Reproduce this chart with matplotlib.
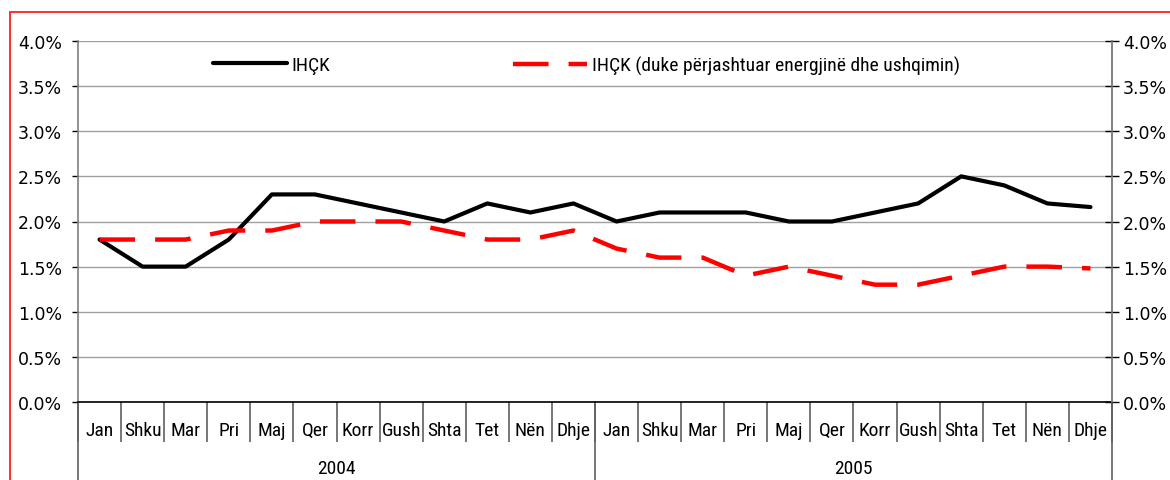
import matplotlib
matplotlib.use("Agg")
import matplotlib.pyplot as plt
import matplotlib.transforms as mtransforms
from matplotlib import font_manager as fm
from matplotlib.patches import Rectangle
from matplotlib.ticker import FixedLocator, FuncFormatter

# ---------------- data ----------------
months = ['Jan', 'Shku', 'Mar', 'Pri', 'Maj', 'Qer', 'Korr', 'Gush', 'Shta', 'Tet', 'Nën', 'Dhje']
years = ['2004', '2005']
ihck = [1.8, 1.5, 1.5, 1.8, 2.3, 2.3, 2.2, 2.1, 2.0, 2.2, 2.1, 2.2,
        2.0, 2.1, 2.1, 2.1, 2.0, 2.0, 2.1, 2.2, 2.5, 2.4, 2.2, 2.16]
ihck_core = [1.8, 1.8, 1.8, 1.9, 1.9, 2.0, 2.0, 2.0, 1.9, 1.8, 1.8, 1.9,
             1.7, 1.6, 1.6, 1.4, 1.5, 1.4, 1.3, 1.3, 1.4, 1.5, 1.5, 1.48]
series_labels = ['IHÇK', 'IHÇK (duke përjashtuar energjinë dhe ushqimin)']
yticks = [0.0, 0.5, 1.0, 1.5, 2.0, 2.5, 3.0, 3.5, 4.0]

# ---------------- fonts ----------------
names = {f.name for f in fm.fontManager.ttflist}
narrow = None
for n in ['Liberation Sans Narrow', 'DejaVu Sans Condensed', 'Roboto Condensed',
          'Open Sans Condensed', 'Arial Narrow']:
    if n in names:
        narrow = n
        break
if narrow is None:
    narrow = 'Liberation Sans'
    nsize = 12
else:
    nsize = 14
plt.rcParams['font.family'] = ['DejaVu Sans']

W, H = 1170, 481
fig = plt.figure(figsize=(W / 100, H / 100), dpi=100)
L, R, T, B = 78, 1112, 42, 403
ax = fig.add_axes([L / W, 1 - B / H, (R - L) / W, (B - T) / H])

n = len(ihck)
xs = [i + 0.5 for i in range(n)]

ax.plot(xs, ihck, color='black', lw=3.0, solid_capstyle='round',
        solid_joinstyle='round', label=series_labels[0], zorder=3)
ax.plot(xs, ihck_core, color='#ff0000', lw=3.2, linestyle=(0, (8, 4.5)),
        dash_capstyle='butt', label=series_labels[1], zorder=3)

ax.set_xlim(0, n)
ax.set_ylim(0, 4.0)

# grid
ax.yaxis.set_major_locator(FixedLocator(yticks))
ax.yaxis.set_major_formatter(FuncFormatter(lambda v, p: f'{v:.1f}%'))
ax.grid(axis='y', color='#a0a0a0', lw=1.0)
ax.set_axisbelow(True)

ax.spines['top'].set_visible(False)
ax.spines['left'].set_color('#808080')
ax.spines['right'].set_color('#808080')
ax.spines['bottom'].set_color('black')
for s in ax.spines.values():
    s.set_linewidth(1.2)

ax.tick_params(axis='y', which='major', direction='out', length=4.5, width=1,
               color='black', pad=7, labelsize=12.5, labelcolor='black')

# right axis
ax2 = ax.twinx()
ax2.set_ylim(0, 4.0)
ax2.yaxis.set_major_locator(FixedLocator(yticks))
ax2.yaxis.set_major_formatter(FuncFormatter(lambda v, p: f'{v:.1f}%'))
ax2.tick_params(axis='y', direction='inout', length=9.5, width=1, color='black',
                pad=3, labelsize=12.5)
for s in ['top', 'left', 'bottom']:
    ax2.spines[s].set_visible(False)
ax2.spines['right'].set_color('#808080')
ax2.spines['right'].set_linewidth(1.2)

# x axis: separators as major ticks, month labels at minor ticks
ax.set_xticks(range(n + 1))
ax.set_xticklabels([])
ax.set_xticks(xs, minor=True)
ax.set_xticklabels(months * len(years), minor=True, fontfamily=narrow, fontsize=nsize)
ax.tick_params(axis='x', which='major', direction='out', length=29, width=1.2,
               color='#606060')
ax.tick_params(axis='x', which='minor', length=0, pad=13.5)

# year level
trans = mtransforms.blended_transform_factory(ax.transData, ax.transAxes)
for k, yr in enumerate(years):
    ax.annotate(yr, xy=(12 * k + 6, 0), xycoords=trans, xytext=(0, -66),
                textcoords='offset pixels', ha='center', va='center',
                fontfamily=narrow, fontsize=nsize)
for xb in range(0, n + 1, 12):
    ax.plot([xb, xb], [0, -0.3], transform=trans, color='#606060', lw=1.2,
            clip_on=False)

# legend: two separate entries placed like the reference
h = ax.get_lines()
leg1 = ax.legend(handles=[h[0]], loc='center left',
                 bbox_to_anchor=((213 - L) / (R - L), (B - 66) / (B - T)),
                 frameon=False, borderpad=0, borderaxespad=0, handlelength=3.8,
                 handletextpad=0.25, prop={'family': narrow, 'size': nsize})
ax.add_artist(leg1)
ax.legend(handles=[h[1]], loc='center left',
          bbox_to_anchor=((513 - L) / (R - L), (B - 66) / (B - T)),
          frameon=False, borderpad=0, borderaxespad=0, handlelength=3.8,
          handletextpad=0.25, prop={'family': narrow, 'size': nsize})

# red outer frame (only left and top visible)
fig.patches.append(Rectangle((10 / W, -0.2), 1.2, (1 - 13 / H) + 0.2,
                             transform=fig.transFigure, fill=False,
                             edgecolor='#ff2020', lw=1.3))

fig.savefig('out.png', dpi=100)
